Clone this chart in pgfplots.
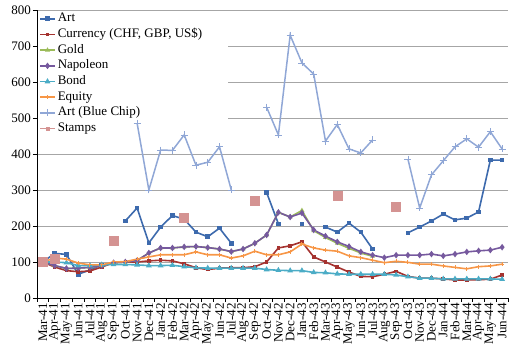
\documentclass[border=0pt]{standalone}
\usepackage{pgfplots}
\pgfplotsset{compat=1.18}
\usepackage{pgfplotstable}
\usepackage{fontspec}
\setmainfont{Liberation Serif}
\newfontfamily\tnr{Liberation Serif}
\definecolor{cArt}{HTML}{3D6AAD}
\definecolor{cCur}{HTML}{A5322F}
\definecolor{cGold}{HTML}{9BBB59}
\definecolor{cNap}{HTML}{76599E}
\definecolor{cBond}{HTML}{4BACC6}
\definecolor{cEq}{HTML}{F79646}
\definecolor{cBC}{HTML}{90A7D6}
\definecolor{cSt}{HTML}{D49392}
\pgfplotstableread{
i Art Cur Gold Nap Bond Eq BC St
0 100 100 100 100 100 100 nan 100
1 124 86 90 90 100 111 nan 108
2 121 76 82 82 98 108 nan nan
3 66 73 83 83 90 97 nan nan
4 78 75 85 85 90 92 nan nan
5 92 86 90 90 92 92 nan nan
6 nan 98 98 98 93 100 nan 158
7 214 100 100 100 93 101 nan nan
8 250 100 104 104 92 108 486 nan
9 153 103 125 125 90 114 300 nan
10 197 105 139 139 90 120 411 nan
11 229 103 139 139 91 120 410 nan
12 219 95 142 142 87 120 453 222
13 183 84 143 143 84 128 369 nan
14 170 79 140 140 83 120 377 nan
15 194 83 136 136 83 120 420 nan
16 152 84 129 129 83 111 300 nan
17 nan 84 136 136 83 117 nan nan
18 nan 87 152 152 83 130 nan 269
19 293 100 175 175 79 120 530 nan
20 206 139 238 238 77 120 453 nan
21 nan 145 225 225 76 128 730 nan
22 206 156 243 236 76 150 653 nan
23 nan 114 187 189 71 139 622 nan
24 197 100 168 172 70 133 436 nan
25 183 86 152 156 67 130 482 283
26 208 72 138 143 66 117 414 nan
27 183 60 125 128 66 112 403 nan
28 136 59 116 119 66 105 439 nan
29 nan 66 nan 112 66 98 nan nan
30 nan 74 nan 119 64 102 nan 253
31 181 60 nan 119 59 99 386 nan
32 197 55 nan 119 55 94 250 nan
33 214 55 nan 122 55 94 342 nan
34 233 53 nan 117 53 89 381 nan
35 217 50 nan 122 53 85 420 nan
36 222 50 nan 128 53 81 442 nan
37 239 51 nan 131 53 87 419 nan
38 383 52 nan 133 53 89 462 nan
39 383 64 nan 141 52 94 414 nan
}\data
\begin{document}
\begin{tikzpicture}
\begin{axis}[
  scale only axis, width=471pt, height=288pt,
  xmin=-0.5, xmax=39.5, ymin=0, ymax=800,
  axis x line*=bottom, axis y line*=left,
  axis line style={black, line width=0.8pt},
  ytick={0,100,...,800},
  ymajorgrids, grid style={gray!70, line width=0.8pt},
  xtick={0,...,39},
  xticklabels={Mar-41,Apr-41,May-41,Jun-41,Jul-41,Aug-41,Sep-41,Oct-41,Nov-41,Dec-41,Jan-42,Feb-42,Mar-42,Apr-42,May-42,Jun-42,Jul-42,Aug-42,Sep-42,Oct-42,Nov-42,Dec-42,Jan-43,Feb-43,Mar-43,Apr-43,May-43,Jun-43,Jul-43,Aug-43,Sep-43,Oct-43,Nov-43,Dec-43,Jan-44,Feb-44,Mar-44,Apr-44,May-44,Jun-44},
  xticklabel style={rotate=90, anchor=east, inner sep=1pt, font=\tnr\fontsize{13}{14}\selectfont},
  yticklabel style={font=\tnr\fontsize{13}{14}\selectfont, inner sep=2pt},
  minor xtick={-0.5,0.5,...,39.5},
  major x tick style={draw=none},
  minor x tick style={black, line width=0.8pt},
  y tick style={black, line width=0.8pt},
  tick align=outside, major tick length=4pt, minor tick length=4pt,
  /pgf/number format/assume math mode=true,
  unbounded coords=jump,
  legend cell align=left,
  legend image code/.code={\draw[mark repeat=2,mark phase=2,line width=1.6pt,#1] plot coordinates {(0pt,0pt) (7.5pt,0pt) (15pt,0pt)};},
  legend style={at={(axis cs:-0.5,798)}, anchor=north west, draw=none, fill=none,
    font=\tnr\fontsize{13}{14}\selectfont, row sep=0pt, inner xsep=2pt, inner ysep=0pt,
    nodes={text height=9pt, text depth=3pt, inner ysep=1.85pt, inner xsep=2pt}},
]
\fill[white] (axis cs:-0.45,447) rectangle (axis cs:15.75,796);
\addplot[cArt, line width=1.6pt, mark=square*, mark size=1.5pt] table[x=i, y=Art] {\data};
\addlegendentry{Art}
\addplot[cCur, line width=1.6pt, mark=square*, mark size=1pt] table[x=i, y=Cur] {\data};
\addlegendentry{Currency (CHF, GBP, US\$)}
\addplot[cGold, line width=1.6pt, mark=triangle*, mark size=1.3pt] table[x=i, y=Gold] {\data};
\addlegendentry{Gold}
\addplot[cNap, line width=1.6pt, mark=diamond*, mark size=2pt] table[x=i, y=Nap] {\data};
\addlegendentry{Napoleon}
\addplot[cBond, line width=1.6pt, mark=triangle*, mark size=1.8pt] table[x=i, y=Bond] {\data};
\addlegendentry{Bond}
\addplot[cEq, line width=1.6pt, mark=+, mark size=2pt, mark options={line width=1pt}] table[x=i, y=Eq] {\data};
\addlegendentry{Equity}
\addplot[cBC, line width=1.5pt, mark=+, mark size=3.5pt, mark options={line width=0.8pt}] table[x=i, y=BC] {\data};
\addlegendentry{Art (Blue Chip)}
\addplot[cSt, only marks, mark=square*, mark size=4.5pt,
  legend image code/.code={\draw[cSt, line width=1.6pt] (0pt,0pt) -- (15pt,0pt); \fill[cSt] (6pt,-1.5pt) rectangle (9pt,1.5pt);}] table[x=i, y=St] {\data};
\addlegendentry{Stamps}
\end{axis}
\path ([shift={(-37pt,0pt)}]current axis.south west) ([shift={(14pt,10pt)}]current axis.north east);
\end{tikzpicture}
\end{document}
